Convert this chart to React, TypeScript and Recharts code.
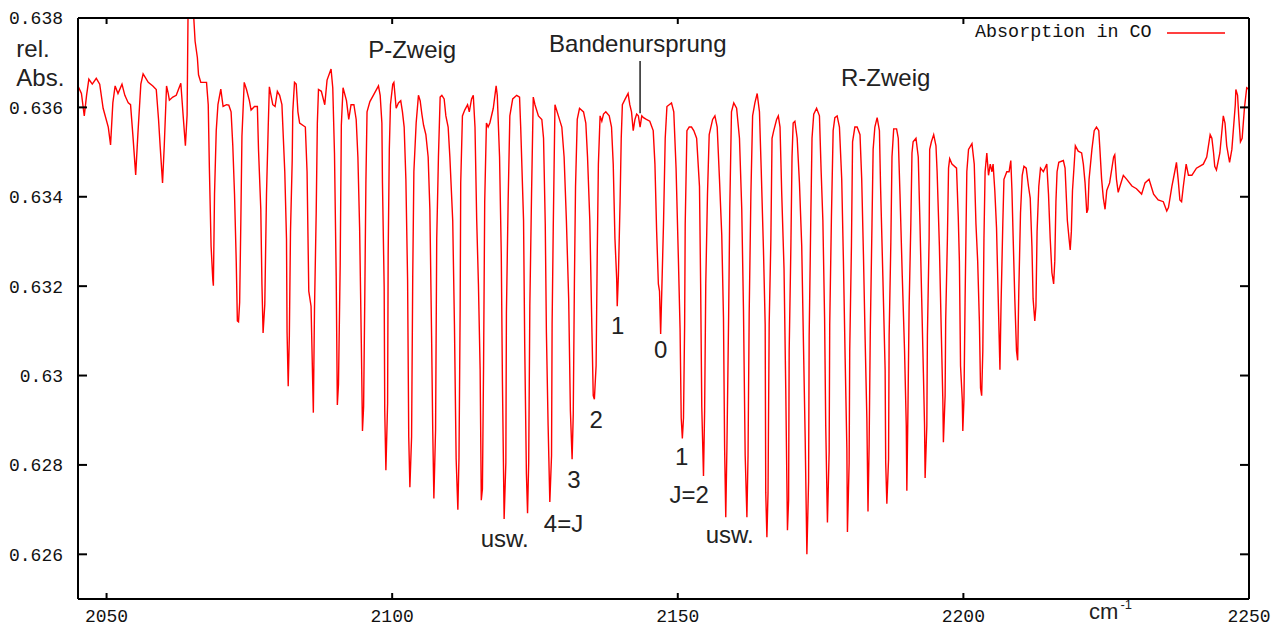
import React from 'react';
import { LineChart, Line, XAxis, YAxis, ReferenceDot, ReferenceLine, Legend } from 'recharts';

// Spectrum: [wavenumber cm^-1, relative absorbance]
const spectrumLow: [number, number][] = [
  [2045.0, 0.63648], [2045.6, 0.63631], [2046.1, 0.63581], [2046.5, 0.63627], [2046.9, 0.63663],
  [2047.5, 0.63652], [2048.2, 0.63665], [2048.8, 0.63652], [2049.4, 0.63598], [2050.3, 0.63556],
  [2050.7, 0.63516], [2051.1, 0.6361], [2051.5, 0.63648], [2052.0, 0.63631], [2052.7, 0.63652],
  [2053.2, 0.63627], [2053.8, 0.6361], [2054.2, 0.63606], [2054.6, 0.63539], [2055.1, 0.63449],
  [2055.5, 0.63544], [2056.0, 0.63652], [2056.4, 0.63675], [2057.3, 0.63656], [2058.1, 0.63648],
  [2058.7, 0.6364], [2059.1, 0.63573], [2059.4, 0.6351], [2059.8, 0.63431], [2060.1, 0.63514],
  [2060.5, 0.63648], [2060.8, 0.63631], [2061.0, 0.63616], [2061.6, 0.63623], [2062.2, 0.63627],
  [2063.0, 0.63654], [2063.4, 0.63583], [2063.8, 0.63514], [2064.1, 0.63583], [2064.3, 0.6386],
  [2065.0, 0.6386], [2065.5, 0.63748], [2065.9, 0.63711], [2066.1, 0.63673], [2066.5, 0.63656],
  [2067.5, 0.63656], [2067.8, 0.63606], [2068.0, 0.63464], [2068.3, 0.63289], [2068.6, 0.63214],
  [2068.7, 0.63201], [2068.9, 0.63406], [2069.2, 0.63548], [2069.5, 0.63606], [2070.0, 0.63641],
  [2070.4, 0.63602], [2071.0, 0.63606], [2071.4, 0.63605], [2071.8, 0.6359], [2072.1, 0.63514],
  [2072.4, 0.63406], [2072.7, 0.63256], [2072.9, 0.63122], [2073.1, 0.6312], [2073.3, 0.63164],
  [2073.5, 0.63339], [2073.7, 0.63535], [2074.1, 0.63656], [2074.5, 0.6364], [2075.0, 0.63615],
  [2075.3, 0.63594], [2075.9, 0.63602], [2076.4, 0.63602], [2076.6, 0.63506], [2077.0, 0.63372],
  [2077.2, 0.63205], [2077.4, 0.63095], [2077.7, 0.63159], [2078.0, 0.63406], [2078.3, 0.63556],
  [2078.5, 0.63646], [2079.1, 0.63606], [2079.5, 0.63602], [2079.9, 0.63636], [2080.3, 0.63627],
  [2080.7, 0.63606], [2081.2, 0.63456], [2081.5, 0.63306], [2081.6, 0.63097], [2081.8, 0.62976],
  [2082.0, 0.63089], [2082.2, 0.63322], [2082.5, 0.63481], [2082.6, 0.6359], [2082.9, 0.63656],
  [2083.2, 0.63652], [2083.5, 0.6359], [2083.8, 0.63565], [2084.8, 0.63556], [2085.1, 0.63456],
  [2085.4, 0.63189], [2085.8, 0.63155], [2086.2, 0.62917], [2086.4, 0.63147], [2086.7, 0.63364],
  [2086.9, 0.63565], [2087.1, 0.6364], [2087.6, 0.63636], [2088.2, 0.63606], [2088.6, 0.63661],
  [2089.3, 0.63686], [2089.6, 0.63644], [2089.9, 0.63498], [2090.2, 0.63222], [2090.4, 0.62934],
  [2090.6, 0.6298], [2090.9, 0.63247], [2091.1, 0.6356], [2091.4, 0.63644], [2092.0, 0.63615],
  [2092.4, 0.63573], [2092.8, 0.63606], [2093.3, 0.63606], [2093.7, 0.63573], [2094.0, 0.63489],
  [2094.3, 0.63331], [2094.6, 0.63072], [2094.8, 0.62876], [2095.0, 0.6293], [2095.2, 0.63168],
  [2095.4, 0.63431], [2095.6, 0.6359], [2096.1, 0.63613],
];

const spectrumMid: [number, number][] = [
  [2096.7, 0.63627], [2097.6, 0.63648], [2097.9, 0.63627], [2098.2, 0.63565], [2098.3, 0.63431],
  [2098.6, 0.63197], [2098.7, 0.62921], [2098.9, 0.62788], [2099.2, 0.62938], [2099.3, 0.63272],
  [2099.5, 0.63506], [2099.7, 0.63606], [2100.1, 0.63652], [2100.3, 0.63656], [2100.7, 0.63598],
  [2101.1, 0.6361], [2101.5, 0.63615], [2101.8, 0.6359], [2102.1, 0.63556], [2102.4, 0.63439],
  [2102.7, 0.63214], [2102.9, 0.62863], [2103.1, 0.6275], [2103.4, 0.62863], [2103.6, 0.63222],
  [2103.8, 0.63456], [2104.2, 0.63565], [2104.6, 0.63627], [2104.9, 0.63615], [2105.2, 0.63585],
  [2105.5, 0.6356], [2105.9, 0.63539], [2106.3, 0.63489], [2106.6, 0.63372], [2106.9, 0.63089],
  [2107.1, 0.6288], [2107.3, 0.62725], [2107.6, 0.6288], [2107.8, 0.63306], [2108.1, 0.63489],
  [2108.4, 0.63623], [2108.7, 0.63627], [2109.1, 0.63619], [2109.4, 0.63581], [2109.8, 0.63556],
  [2110.1, 0.63489], [2110.6, 0.63347], [2110.9, 0.63114], [2111.2, 0.62813], [2111.5, 0.627],
  [2111.7, 0.62817], [2111.9, 0.63147], [2112.0, 0.63431], [2112.3, 0.63581], [2112.7, 0.63594],
  [2113.2, 0.63606], [2113.5, 0.6359], [2113.9, 0.63619], [2114.2, 0.63627], [2114.5, 0.63556],
  [2114.8, 0.63347], [2115.1, 0.63205], [2115.4, 0.63013], [2115.6, 0.62721], [2115.8, 0.62746],
  [2116.0, 0.63022], [2116.2, 0.63389], [2116.5, 0.63565], [2116.8, 0.63556], [2117.1, 0.63565],
  [2117.7, 0.63598], [2118.2, 0.63648], [2118.4, 0.63627], [2118.8, 0.63489], [2119.1, 0.63272],
  [2119.3, 0.62988], [2119.6, 0.62679], [2119.9, 0.62805], [2120.0, 0.63139], [2120.3, 0.63389],
  [2120.6, 0.63581], [2121.1, 0.63619], [2121.8, 0.63627], [2122.3, 0.63623], [2122.5, 0.63556],
  [2123.0, 0.63347], [2123.2, 0.63072], [2123.5, 0.6278], [2123.7, 0.62692], [2123.9, 0.62805],
  [2124.1, 0.63155], [2124.4, 0.63406], [2124.7, 0.63623], [2125.0, 0.63606], [2125.6, 0.63581],
  [2126.2, 0.63573], [2126.5, 0.63531], [2126.8, 0.63339], [2127.0, 0.63097], [2127.3, 0.62888],
  [2127.6, 0.62717], [2127.9, 0.62821], [2128.0, 0.63114], [2128.2, 0.63331], [2128.5, 0.63606],
  [2129.1, 0.63581], [2129.7, 0.63556], [2130.1, 0.63489], [2130.5, 0.63347], [2130.9, 0.63172],
  [2131.2, 0.62921], [2131.5, 0.62813], [2131.7, 0.62913], [2131.9, 0.63205], [2132.1, 0.63423],
  [2132.4, 0.63573], [2132.8, 0.63598], [2133.5, 0.6359], [2133.9, 0.63565], [2134.2, 0.63489],
  [2134.6, 0.63347], [2134.9, 0.63147], [2135.2, 0.62955], [2135.4, 0.62947], [2135.7, 0.63022],
  [2135.9, 0.63272], [2136.1, 0.63473], [2136.4, 0.63581], [2136.7, 0.63569], [2137.0, 0.63585],
  [2137.4, 0.6359], [2138.0, 0.63581], [2138.4, 0.63556], [2138.7, 0.63473], [2139.0, 0.63306],
  [2139.3, 0.63218], [2139.4, 0.63155], [2139.6, 0.63222], [2139.9, 0.63389], [2140.1, 0.63531],
  [2140.3, 0.63606], [2140.8, 0.63619], [2141.3, 0.63631], [2141.6, 0.63606], [2141.9, 0.6359],
  [2142.2, 0.63548], [2142.5, 0.63573], [2142.8, 0.63585], [2143.1, 0.63581], [2143.4, 0.63556],
  [2143.7, 0.63581], [2144.0, 0.63577], [2144.5, 0.63573], [2145.1, 0.63569], [2145.7, 0.63548],
  [2146.0, 0.63473], [2146.3, 0.63322], [2146.6, 0.63205], [2146.8, 0.63189], [2147.0, 0.63093],
  [2147.2, 0.63189], [2147.5, 0.63339], [2147.8, 0.63531],
];

const spectrumHigh: [number, number][] = [
  [2148.1, 0.63602], [2148.9, 0.6361], [2149.3, 0.6359], [2149.7, 0.63464], [2150.1, 0.63264],
  [2150.4, 0.63105], [2150.6, 0.62905], [2150.8, 0.62859], [2151.0, 0.62905], [2151.2, 0.63114],
  [2151.3, 0.63339], [2151.6, 0.63548], [2152.0, 0.63556], [2152.4, 0.63556], [2152.8, 0.63548],
  [2153.3, 0.63531], [2153.8, 0.63423], [2154.0, 0.63205], [2154.2, 0.6293], [2154.5, 0.62775],
  [2154.7, 0.62921], [2154.9, 0.63205], [2155.2, 0.63406], [2155.5, 0.63539], [2156.1, 0.63573],
  [2156.5, 0.63581], [2156.9, 0.63556], [2157.3, 0.63439], [2157.7, 0.63314], [2158.0, 0.6313],
  [2158.2, 0.62838], [2158.4, 0.62683], [2158.6, 0.62838], [2158.9, 0.6313], [2159.1, 0.63372],
  [2159.4, 0.6359], [2159.8, 0.6361], [2160.3, 0.63598], [2160.8, 0.63531], [2161.2, 0.63372],
  [2161.5, 0.63147], [2161.8, 0.62821], [2162.1, 0.62683], [2162.3, 0.62821], [2162.5, 0.63139],
  [2162.8, 0.63406], [2163.1, 0.63581], [2163.5, 0.6361], [2163.9, 0.63631], [2164.3, 0.6359],
  [2164.6, 0.63464], [2165.0, 0.63281], [2165.3, 0.63114], [2165.4, 0.62738], [2165.6, 0.62638],
  [2165.8, 0.62738], [2166.0, 0.63114], [2166.3, 0.63306], [2166.5, 0.63531], [2166.8, 0.63548],
  [2167.3, 0.63573], [2167.6, 0.63581], [2167.9, 0.63556], [2168.2, 0.63406], [2168.6, 0.63239],
  [2168.9, 0.62972], [2169.2, 0.62654], [2169.4, 0.62721], [2169.5, 0.63055], [2169.8, 0.63289],
  [2170.0, 0.63489], [2170.2, 0.63565], [2170.5, 0.63569], [2170.9, 0.63531], [2171.3, 0.63431],
  [2171.7, 0.63289], [2172.0, 0.63072], [2172.3, 0.62863], [2172.6, 0.626], [2172.9, 0.62763],
  [2173.0, 0.63089], [2173.3, 0.63364], [2173.5, 0.63531], [2173.8, 0.63585], [2174.3, 0.63598],
  [2174.8, 0.63581], [2175.1, 0.63456], [2175.4, 0.63347], [2175.7, 0.6313], [2175.9, 0.62888],
  [2176.2, 0.62671], [2176.5, 0.6283], [2176.6, 0.63114], [2176.9, 0.63356], [2177.2, 0.63548],
  [2177.5, 0.63577], [2177.9, 0.63581], [2178.3, 0.63556], [2178.7, 0.63439], [2179.0, 0.63256],
  [2179.3, 0.63038], [2179.6, 0.62838], [2179.7, 0.6265], [2180.0, 0.62805], [2180.1, 0.63055],
  [2180.4, 0.63289], [2180.6, 0.63523], [2181.0, 0.63556], [2181.4, 0.63556], [2181.9, 0.63539],
  [2182.2, 0.63439], [2182.5, 0.63272], [2182.8, 0.6308], [2183.1, 0.62905], [2183.3, 0.62696],
  [2183.5, 0.62846], [2183.7, 0.63097], [2184.0, 0.63339], [2184.2, 0.63506], [2184.5, 0.63556],
  [2184.9, 0.63577], [2185.3, 0.63548], [2185.5, 0.63423], [2185.9, 0.63222], [2186.3, 0.63013],
  [2186.4, 0.62805], [2186.6, 0.62713], [2186.9, 0.62813], [2187.0, 0.63089], [2187.3, 0.63297],
  [2187.5, 0.63489], [2187.8, 0.63552], [2188.3, 0.63552], [2188.6, 0.63531], [2188.9, 0.63406],
  [2189.3, 0.63222], [2189.7, 0.63055], [2190.0, 0.62888], [2190.1, 0.62742], [2190.3, 0.6293],
  [2190.5, 0.63155], [2190.8, 0.63339], [2191.0, 0.63498], [2191.2, 0.63523], [2191.7, 0.63531],
  [2192.1, 0.63489], [2192.4, 0.63339], [2192.7, 0.63172], [2193.0, 0.63005], [2193.2, 0.62888],
  [2193.3, 0.62771], [2193.6, 0.62888], [2193.7, 0.63089], [2194.0, 0.63306], [2194.1, 0.63506],
  [2194.4, 0.63523], [2194.8, 0.63539], [2195.2, 0.63514], [2195.4, 0.63456], [2195.8, 0.63289],
  [2196.1, 0.63114], [2196.4, 0.62947], [2196.5, 0.62851], [2196.8, 0.62955], [2196.9, 0.63122],
  [2197.2, 0.63306], [2197.4, 0.63464], [2197.6, 0.63485],
];

const spectrumTail: [number, number][] = [
  [2198.0, 0.63473], [2198.8, 0.63464], [2199.1, 0.63356], [2199.3, 0.63256], [2199.5, 0.63022],
  [2199.8, 0.62947], [2199.9, 0.62876], [2200.1, 0.62947], [2200.3, 0.63172], [2200.6, 0.63456],
  [2200.9, 0.63506], [2201.5, 0.63519], [2201.9, 0.63473], [2202.2, 0.63339], [2202.5, 0.63256],
  [2202.8, 0.63122], [2203.0, 0.62972], [2203.2, 0.62955], [2203.4, 0.63055], [2203.6, 0.63306],
  [2203.8, 0.63456], [2204.1, 0.63498], [2204.4, 0.63448], [2204.7, 0.63473], [2205.0, 0.63456],
  [2205.2, 0.63473], [2205.5, 0.63414], [2205.8, 0.63331], [2206.1, 0.63172], [2206.4, 0.63013],
  [2206.6, 0.63164], [2206.9, 0.63339], [2207.1, 0.63439], [2207.6, 0.63456], [2208.0, 0.63456],
  [2208.3, 0.63481], [2208.5, 0.63414], [2208.7, 0.63314], [2209.0, 0.63172], [2209.3, 0.63055],
  [2209.5, 0.63034], [2209.7, 0.63189], [2210.0, 0.63364], [2210.3, 0.63448], [2210.6, 0.63468],
  [2211.0, 0.63464], [2211.4, 0.63423], [2211.7, 0.63397], [2212.0, 0.63289], [2212.2, 0.63172],
  [2212.5, 0.63122], [2212.7, 0.63155], [2212.9, 0.63322], [2213.2, 0.63423], [2213.5, 0.63464],
  [2214.0, 0.63456], [2214.6, 0.63473], [2214.9, 0.63406], [2215.2, 0.63306], [2215.5, 0.6323],
  [2215.8, 0.63205], [2216.0, 0.63256], [2216.2, 0.63389], [2216.4, 0.63456], [2216.7, 0.63477],
  [2217.5, 0.63481], [2217.8, 0.63464], [2218.2, 0.63347], [2218.5, 0.63306], [2218.7, 0.63281],
  [2218.9, 0.63322], [2219.1, 0.63414], [2219.4, 0.63473], [2219.6, 0.63514], [2220.1, 0.63502],
  [2220.7, 0.63498], [2221.0, 0.63473], [2221.3, 0.63431], [2221.6, 0.63364], [2221.8, 0.63372],
  [2222.0, 0.63439], [2222.5, 0.63506], [2222.9, 0.63548], [2223.3, 0.63556], [2223.7, 0.63548],
  [2223.9, 0.63506], [2224.2, 0.63439], [2224.5, 0.63397], [2224.8, 0.63372], [2225.1, 0.63414],
  [2225.6, 0.63431], [2226.0, 0.63464], [2226.3, 0.63489], [2226.5, 0.63494], [2226.8, 0.63439],
  [2227.1, 0.6341], [2227.4, 0.63423], [2228.0, 0.63448], [2228.6, 0.63439], [2229.5, 0.63424],
  [2230.3, 0.63418], [2231.2, 0.63406], [2231.8, 0.63431], [2232.5, 0.63439], [2233.3, 0.63406],
  [2234.1, 0.63393], [2235.0, 0.63389], [2235.6, 0.63368], [2235.9, 0.63376], [2236.5, 0.63423],
  [2237.0, 0.63456], [2237.3, 0.63477], [2237.6, 0.63439], [2237.9, 0.63393], [2238.2, 0.63389],
  [2238.5, 0.63423], [2239.0, 0.63473], [2239.4, 0.63448], [2240.0, 0.63448], [2240.8, 0.63464],
  [2242.0, 0.63473], [2242.6, 0.63489], [2243.2, 0.63539], [2243.5, 0.63531], [2243.8, 0.63498],
  [2244.0, 0.63468], [2244.3, 0.6346], [2244.9, 0.63498], [2245.5, 0.63581], [2245.8, 0.63565],
  [2246.1, 0.63514], [2246.6, 0.63477], [2247.0, 0.63506], [2247.6, 0.63606], [2247.7, 0.6364],
  [2248.0, 0.63627], [2248.2, 0.63581], [2248.5, 0.63523], [2248.8, 0.63531], [2249.2, 0.63598],
  [2249.6, 0.63644], [2250.0, 0.6364],
];

const xDomain: [number, number] = [2045, 2250];
const yDomain: [number, number] = [0.625, 0.638];
const xTicks = [2050, 2100, 2150, 2200, 2250];
const yTicks = [0.626, 0.628, 0.63, 0.632, 0.634, 0.636, 0.638];

const seriesName = 'Absorption in CO';

const branchLabels = [
  { text: 'P-Zweig', x: 2103.5, y: 0.63711 },
  { text: 'Bandenursprung', x: 2143.0, y: 0.63724 },
  { text: 'R-Zweig', x: 2186.4, y: 0.63648 },
];

const lineLabels = [
  { text: '1', x: 2139.5, y: 0.63093 },
  { text: '2', x: 2135.7, y: 0.62883 },
  { text: '3', x: 2131.8, y: 0.62748 },
  { text: '4=J', x: 2130.0, y: 0.6265 },
  { text: 'usw.', x: 2119.7, y: 0.62616 },
  { text: '0', x: 2147.0, y: 0.63039 },
  { text: '1', x: 2150.7, y: 0.628 },
  { text: 'J=2', x: 2152.0, y: 0.62715 },
  { text: 'usw.', x: 2159.1, y: 0.62625 },
];

const axisTitleLines = [
  { text: 'rel.', x: 2034.2, y: 0.63713 },
  { text: 'Abs.', x: 2034.2, y: 0.63648 },
];

const unitLabel = { text: 'cm', sup: '-1', x: 2222.0, y: 0.62456 };
const originMarker = { x: 2143.4, from: 0.63587, to: 0.63704 };

const spectrum = [...spectrumLow, ...spectrumMid, ...spectrumHigh, ...spectrumTail].map(([x, y]) => ({ x, y }));

const X_MARK_PX = 6;
const Y_MARK_PX = 9;

const monoFont = '"Liberation Mono", "DejaVu Sans Mono", monospace';
const sansFont = '"Liberation Sans", Arial, sans-serif';
const annColor = '#222';
const frame = { stroke: '#000', strokeWidth: 2 };

const makeTextShape = (text: string, anchor: 'middle' | 'start') => (props: any) => (
  <text x={props.cx} y={props.cy} textAnchor={anchor} fontFamily={sansFont} fontSize={24} fill={annColor}>
    {text}
  </text>
);

// inward tick mark drawn at an axis point: dx/dy give the inward direction
const makeMark = (dx: number, dy: number) => (props: any) => (
  <line
    x1={props.cx}
    y1={props.cy}
    x2={props.cx + dx}
    y2={props.cy + dy}
    stroke="#000"
    strokeWidth={2}
  />
);

const unitShape = (props: any) => (
  <text x={props.cx} y={props.cy} textAnchor="start" fontFamily={sansFont} fontSize={22} fill={annColor}>
    {unitLabel.text}
    <tspan dx={2} dy={-10} fontSize={13}>{unitLabel.sup}</tspan>
  </text>
);

const LegendContent = () => (
  <div
    style={{
      display: 'flex',
      alignItems: 'center',
      fontFamily: monoFont,
      fontSize: 18.4,
      lineHeight: '24px',
      color: '#111',
      whiteSpace: 'pre',
    }}
  >
    <span>{seriesName}</span>
    <svg width={58} height={4} style={{ marginLeft: 15, display: 'block' }}>
      <line x1={0} y1={2} x2={58} y2={2} stroke="#ff0000" strokeWidth={1.5} />
    </svg>
  </div>
);

const blank = () => '';

export default function App() {
  const tickStyle = { fontFamily: monoFont, fontSize: 18, fill: '#111' };
  const innerX = xTicks.filter((t) => t > xDomain[0] && t < xDomain[1]);
  const innerY = yTicks.filter((t) => t > yDomain[0] && t < yDomain[1]);
  const bottomMark = makeMark(0, -X_MARK_PX);
  const topMark = makeMark(0, X_MARK_PX);
  const leftMark = makeMark(Y_MARK_PX, 0);
  const rightMark = makeMark(-Y_MARK_PX, 0);
  return (
    <div style={{ position: 'absolute', left: 0, top: 0, width: 1286, height: 626, background: '#fff' }}>
      <LineChart width={1286} height={626} data={spectrum} margin={{ top: 18, right: 37, bottom: 0, left: 0 }}>
        <XAxis
          type="number"
          dataKey="x"
          domain={xDomain}
          ticks={xTicks}
          interval={0}
          allowDataOverflow
          height={27}
          tickSize={6}
          tickMargin={4}
          axisLine={frame}
          tickLine={false}
          tick={tickStyle}
        />
        <XAxis
          xAxisId="top"
          orientation="top"
          mirror
          type="number"
          domain={xDomain}
          ticks={xTicks}
          interval={0}
          allowDataOverflow
          height={1}
          tickFormatter={blank}
          axisLine={frame}
          tickLine={false}
        />
        <YAxis
          type="number"
          domain={yDomain}
          ticks={yTicks}
          interval={0}
          allowDataOverflow
          width={78}
          tickSize={9}
          tickMargin={6}
          axisLine={frame}
          tickLine={false}
          tick={tickStyle}
        />
        <YAxis
          yAxisId="right"
          orientation="right"
          mirror
          type="number"
          domain={yDomain}
          ticks={yTicks}
          interval={0}
          allowDataOverflow
          width={1}
          tickFormatter={blank}
          axisLine={frame}
          tickLine={false}
        />
        <Legend
          layout="horizontal"
          verticalAlign="middle"
          align="center"
          wrapperStyle={{ top: 21, left: 975, width: 260, height: 24 }}
          content={LegendContent}
        />
        <Line
          type="linear"
          dataKey="y"
          name={seriesName}
          stroke="#ff0000"
          strokeWidth={1.4}
          dot={false}
          activeDot={false}
          isAnimationActive={false}
        />
        <ReferenceLine
          segment={[
            { x: originMarker.x, y: originMarker.from },
            { x: originMarker.x, y: originMarker.to },
          ]}
          stroke="#222"
          strokeWidth={1.5}
        />
        {/* inward tick marks on all four sides of the frame */}
        {innerX.map((t) => (
          <ReferenceDot key={'mb' + t} x={t} y={yDomain[0]} r={1} ifOverflow="visible" shape={bottomMark} />
        ))}
        {innerX.map((t) => (
          <ReferenceDot key={'mt' + t} x={t} y={yDomain[1]} r={1} ifOverflow="visible" shape={topMark} />
        ))}
        {innerY.map((t) => (
          <ReferenceDot key={'ml' + t} x={xDomain[0]} y={t} r={1} ifOverflow="visible" shape={leftMark} />
        ))}
        {innerY.map((t) => (
          <ReferenceDot key={'mr' + t} x={xDomain[1]} y={t} r={1} ifOverflow="visible" shape={rightMark} />
        ))}
        {branchLabels.map((l, i) => (
          <ReferenceDot key={'b' + i} x={l.x} y={l.y} r={0} ifOverflow="visible" shape={makeTextShape(l.text, 'middle')} />
        ))}
        {lineLabels.map((l, i) => (
          <ReferenceDot key={'l' + i} x={l.x} y={l.y} r={0} ifOverflow="visible" shape={makeTextShape(l.text, 'middle')} />
        ))}
        {axisTitleLines.map((l, i) => (
          <ReferenceDot key={'a' + i} x={l.x} y={l.y} r={0} ifOverflow="visible" shape={makeTextShape(l.text, 'start')} />
        ))}
        <ReferenceDot x={unitLabel.x} y={unitLabel.y} r={0} ifOverflow="visible" shape={unitShape} />
      </LineChart>
    </div>
  );
}
